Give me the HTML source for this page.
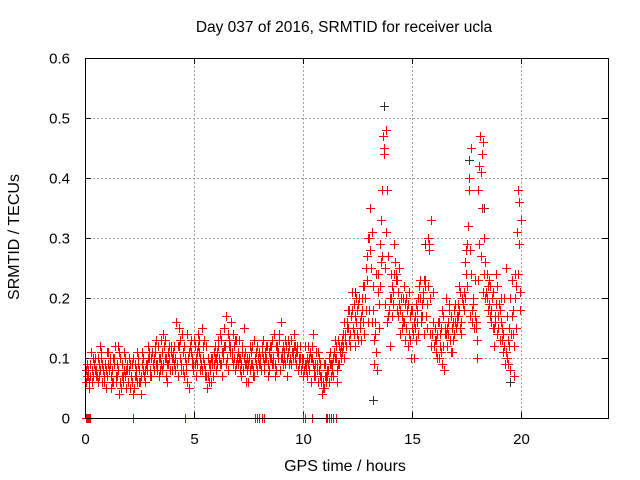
<!DOCTYPE html>
<html><head><meta charset="utf-8"><style>
body{margin:0;background:#fff;}
svg{display:block;font-family:"Liberation Sans",sans-serif;}
</style></head><body>
<svg id="chart" width="640" height="480" viewBox="0 0 640 480">
<rect width="640" height="480" fill="#fff"/>
<text x="344" y="32" font-size="15.5" text-anchor="middle">Day 037 of 2016, SRMTID for receiver ucla</text>
<g id="grid"></g>
<g id="ticks"></g>
<g id="marks" shape-rendering="crispEdges"></g>
<rect x="85.5" y="58.5" width="523" height="360" fill="none" stroke="#000" stroke-width="1" shape-rendering="crispEdges"/>
<text x="345" y="471" font-size="16" text-anchor="middle">GPS time / hours</text>
<text transform="translate(19,237) rotate(-90)" font-size="16" text-anchor="middle">SRMTID / TECUs</text>
</svg>
<script>
const xTicks=[0,5,10,15,20];
const yTicks=[0,0.1,0.2,0.3,0.4,0.5,0.6];
const yTickLabels=["0","0.1","0.2","0.3","0.4","0.5","0.6"];
const seriesA=[.07,.06,.08,.09,.07,.10,.08,.06,.09,.11,.08,.05,.10,.07,.12,.06,.09,.08,.05,.10,.07,.04,.09,.06,.08,.11,.07,.09,.10,.08,.09,.12,.08,.10,.13,.09,.07,.11,.08,.10,.12,.09,.15,.08,.11,.10,.06,.12,.09,.13,.10,.14,.08,.12,.07,.05,.09,.06,.11,.08,.13,.09,.11,.15,.10,.12,.16,.09,.13,.11,.08,.12,.10,.06,.09,.11,.07,.10,.12,.09,.11,.08,.12,.09,.10,.13,.07,.11,.14,.10,.12,.09,.13,.10,.11,.12,.09,.10,.08,.07,.09,.07,.10,.12,.08,.11,.06,.09,.05,.07,.08,.06,.07,.10,.12,.09,.11,.13,.10,.15,.13,.17,.15,.12,.18,.16,.20,.14,.25,.30,.35,.22,.14,.08,.19,.26,.45,.48,.27,.12,.22,.24,.18,.25,.20,.16,.19,.12,.17,.15,.10,.19,.14,.17,.21,.22,.15,.29,.33,.12,.11,.16,.14,.09,.15,.12,.18,.17,.13,.16,.19,.15,.20,.21,.28,.38,.45,.20,.17,.13,.42,.44,.30,.21,.18,.22,.15,.17,.14,.19,.16,.11,.25,.13,.08,.17,.12,.22,.29,.33];
const seriesB=[.09,.05,.11,.07,.10,.06,.12,.09,.07,.05,.11,.07,.06,.12,.09,.04,.07,.11,.08,.06,.05,.09,.07,.11,.06,.04,.10,.08,.12,.07,.11,.08,.13,.07,.09,.14,.10,.06,.12,.08,.09,.16,.07,.13,.08,.10,.14,.05,.11,.09,.07,.12,.10,.15,.09,.12,.06,.10,.07,.12,.09,.14,.07,.12,.17,.08,.11,.14,.08,.10,.13,.07,.15,.09,.06,.12,.09,.13,.08,.11,.08,.13,.10,.07,.12,.09,.14,.08,.10,.16,.09,.13,.07,.12,.09,.14,.11,.08,.12,.10,.12,.10,.08,.06,.14,.09,.11,.07,.04,.09,.06,.10,.09,.07,.13,.06,.09,.11,.16,.12,.18,.12,.21,.17,.14,.20,.13,.22,.18,.16,.28,.31,.09,.24,.15,.33,.47,.25,.38,.20,.17,.29,.24,.21,.14,.20,.13,.18,.21,.10,.16,.13,.20,.23,.17,.14,.19,.28,.12,.21,.15,.10,.12,.18,.08,.20,.14,.11,.16,.19,.16,.22,.14,.18,.24,.32,.28,.16,.23,.10,.29,.41,.46,.26,.22,.17,.20,.12,.24,.15,.20,.14,.09,.17,.12,.23,.07,.15,.38,.18];
const seriesC=[.06,.08,.07,.10,.08,.07,.09,.11,.06,.08,.09,.10,.06,.09,.07,.11,.05,.07,.10,.09,.09,.06,.05,.08,.10,.07,.08,.06,.09,.10,.07,.10,.09,.12,.08,.11,.13,.09,.10,.12,.10,.08,.12,.10,.14,.07,.09,.11,.13,.08,.12,.09,.11,.08,.13,.07,.10,.08,.09,.10,.11,.10,.13,.10,.09,.14,.12,.11,.10,.13,.10,.09,.08,.11,.10,.08,.12,.07,.09,.10,.09,.10,.11,.12,.08,.10,.09,.12,.11,.08,.10,.11,.10,.09,.13,.10,.12,.11,.10,.09,.08,.09,.12,.10,.09,.07,.08,.10,.06,.05,.07,.08,.11,.09,.10,.08,.12,.10,.12,.14,.15,.14,.18,.19,.16,.13,.17,.16,.20,.23,.18,.16,.13,.11,.21,.22,.27,.19,.16,.18,.20,.19,.23,.17,.18,.15,.16,.20,.14,.18,.14,.17,.16,.20,.19,.23,.17,.22,.14,.16,.13,.14,.10,.15,.12,.14,.16,.13,.11,.14,.17,.18,.16,.19,.20,.22,.17,.18,.15,.16,.23,.27,.21,.20,.24,.19,.16,.15,.19,.17,.13,.15,.12,.10,.15,.14,.18,.20,.24,.21];
const seriesD=[.08,.07,.09,.06,.09,.08,.07,.10,.08,.09,.07,.09,.08,.10,.06,.08,.10,.06,.07,.08,.08,.07,.10,.07,.09,.06,.09,.07,.08,.11,.10,.09,.11,.09,.10,.08,.12,.10,.09,.11,.11,.10,.09,.12,.09,.12,.08,.10,.12,.10,.09,.11,.13,.09,.10,.08,.07,.09,.10,.09,.10,.12,.09,.11,.12,.10,.13,.10,.12,.09,.09,.10,.11,.09,.08,.10,.09,.08,.11,.10,.10,.12,.09,.10,.11,.12,.10,.09,.12,.13,.11,.10,.12,.11,.10,.11,.10,.12,.09,.08,.10,.08,.09,.11,.10,.07,.09,.08,.07,.06,.09,.07,.09,.08,.11,.10,.13,.12,.14,.13,.16,.18,.17,.14,.20,.19,.15,.18,.22,.27,.30,.25,.18,.16,.24,.29,.38,.44,.31,.17,.24,.21,.26,.23,.19,.17,.22,.15,.19,.13,.18,.15,.18,.22,.16,.20,.23,.30,.20,.14,.12,.13,.16,.11,.17,.14,.15,.19,.15,.18,.15,.17,.21,.19,.26,.29,.40,.24,.19,.15,.38,.47,.35,.24,.20,.23,.18,.21,.16,.22,.18,.13,.20,.11,.09,.20,.14,.24,.31,.36];
const zeroTimes=[0.05,0.1,0.15,0.2,0.25,2.2,4.6,7.8,7.9,8.0,8.1,8.2,10.0,10.1,10.4,11.05,11.1,11.2,11.3,11.4,11.5];
const greyTimes=[13.7,13.2,17.6,18.3,19.5,12.4,15.6];
const greyValues=[0.52,0.03,0.43,0.35,0.06,0.21,0.29];
const X=t=>85+t*(523/24), Y=v=>418-v*600;
const NS='http://www.w3.org/2000/svg';
const grid=document.getElementById('grid'),ticks=document.getElementById('ticks'),marks=document.getElementById('marks');
function mk(tag,attrs,parent){const e=document.createElementNS(NS,tag);for(const k in attrs)e.setAttribute(k,attrs[k]);parent.appendChild(e);return e;}
xTicks.forEach(t=>{const x=Math.round(X(t))+0.5;
 if(t>0){const g=mk('line',{x1:x,x2:x,y1:58,y2:418,stroke:'#a0a0a0','stroke-dasharray':'2,2'},grid);
 
 }
 mk('line',{x1:x,x2:x,y1:418,y2:412,stroke:'#000'},ticks);mk('line',{x1:x,x2:x,y1:58,y2:64,stroke:'#000'},ticks);
 const l=mk('text',{x:x,y:444,'font-size':15,'text-anchor':'middle'},ticks);l.textContent=t;
 
 });
yTicks.forEach((v,i)=>{const y=Math.round(Y(v))+0.5;
 if(v>0&&v<0.6){const g=mk('line',{x1:85,x2:608,y1:y,y2:y,stroke:'#a0a0a0','stroke-dasharray':'2,2'},grid);
 
 }
 mk('line',{x1:85,x2:91,y1:y,y2:y,stroke:'#000'},ticks);mk('line',{x1:608,x2:602,y1:y,y2:y,stroke:'#000'},ticks);
 const l=mk('text',{x:70,y:y+5,'font-size':15,'text-anchor':'end'},ticks);l.textContent=yTickLabels[i];
 
 });
function cross(t,v,color){const x=Math.round(X(t))+0.5,y=Math.round(Y(v))+0.5;
 const p=mk('path',{d:`M${x-4.5},${y}H${x+4.5}M${x},${y-4.5}V${y+4.5}`,stroke:color,'stroke-width':1.2,fill:'none'},marks);
 
 }
greyTimes.forEach((t,i)=>cross(t,greyValues[i],'#333'));
[seriesA,seriesB,seriesC,seriesD].forEach((s,k)=>s.forEach((v,i)=>cross(0.1*(i+1)-0.025*k,v,'#ff0000')));
zeroTimes.forEach(t=>cross(t,0,'#ff0000'));
</script>
</body></html>
